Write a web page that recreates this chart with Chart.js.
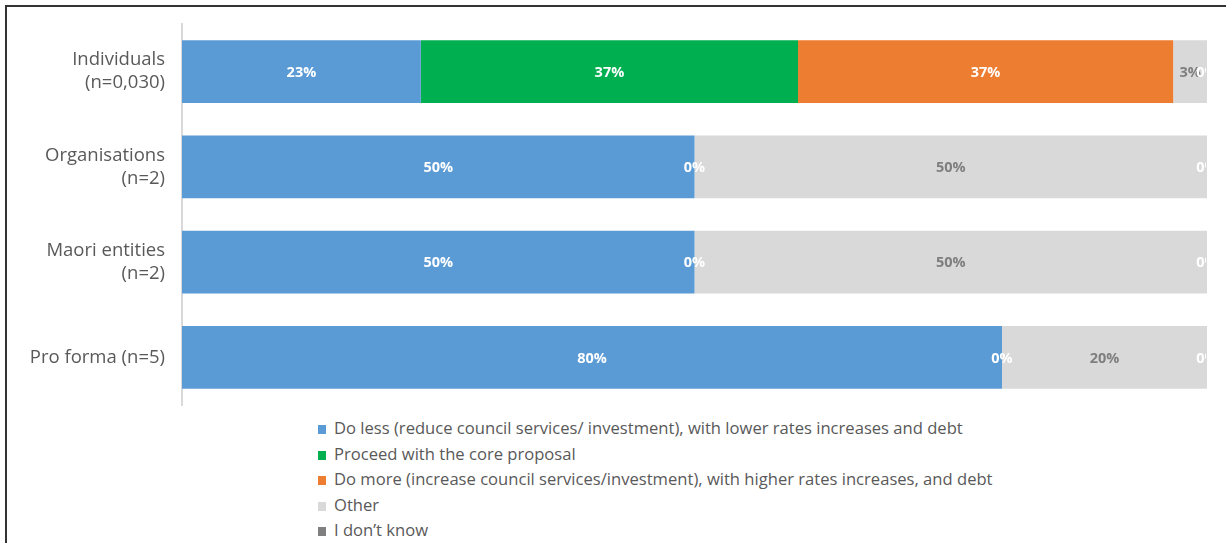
<!DOCTYPE html>
<html>
<head>
<meta charset="utf-8">
<script src="https://cdn.jsdelivr.net/npm/chart.js@4.4.0/dist/chart.umd.min.js"></script>
<style>
  html, body { margin:0; padding:0; background:#fff; }
  body { width:1226px; height:543px; position:relative; overflow:hidden; font-family: "Open Sans", Roboto, sans-serif; }
  .frame { position:absolute; left:5px; top:5px; right:-10px; bottom:-10px; border-top:2px solid #333; border-left:2px solid #333; }
  #c { position:absolute; left:0; top:0; }
  #legend { position:absolute; left:318px; top:417px; }
  .lg { height:25.6px; line-height:22px; font-size:16.6px; color:#595959; white-space:nowrap; }
  .lg i { display:inline-block; width:8px; height:9px; margin-right:8px; vertical-align:0px; }
</style>
</head>
<body>
<div class="frame"></div>
<canvas id="c" width="1226" height="412"></canvas>
<div id="legend"></div>
<script>
// categories and series (percent of respondents)
const groups = [['Individuals','(n=0,030)'], ['Organisations','(n=2)'], ['Maori entities','(n=2)'], 'Pro forma (n=5)'];
const doLess  = [23.3, 50, 50, 80];
const core    = [36.8, 0, 0, 0];
const doMore  = [36.6, 0, 0, 0];
const other   = [3.3, 50, 50, 20];
const dontKnow = [0, 0, 0, 0];

const seriesNames = [
  'Do less (reduce council services/ investment), with lower rates increases and debt',
  'Proceed with the core proposal',
  'Do more (increase council services/investment), with higher rates increases, and debt',
  'Other',
  'I don\u2019t know'
];
const colours = ['#5b9bd5', '#00b050', '#ed7d31', '#d9d9d9', '#7f7f7f'];
const labelColours = ['#fff', '#fff', '#fff', '#7f7f7f', '#fff'];
const seriesData = [doLess, core, doMore, other, dontKnow];

// which segments print a label (zero labels only once per row, like the source)
const showLabel = [
  [true, true, true, true],
  [true, true, true, true],
  [true, false, false, false],
  [true, true, true, true],
  [true, true, true, true]
];

const segLabels = {
  id: 'segLabels',
  afterDatasetsDraw(chart) {
    const ctx = chart.ctx, area = chart.chartArea;
    ctx.save();
    ctx.beginPath();
    ctx.rect(area.left, area.top - 5, area.right - area.left - 1, area.bottom - area.top + 10);
    ctx.clip();
    ctx.font = 'bold 14.5px "Open Sans", sans-serif';
    ctx.textAlign = 'center';
    ctx.textBaseline = 'middle';
    chart.data.datasets.forEach((ds, di) => {
      chart.getDatasetMeta(di).data.forEach((bar, i) => {
        if (!showLabel[di][i]) return;
        const v = ds.data[i];
        const x = (bar.x + bar.base) / 2;
        ctx.fillStyle = labelColours[di];
        ctx.fillText(Math.round(v) + '%', x, bar.y + 1);
      });
    });
    ctx.restore();
  }
};

new Chart(document.getElementById('c'), {
  type: 'bar',
  data: {
    labels: groups,
    datasets: seriesData.map((d, i) => ({
      label: seriesNames[i], data: d, backgroundColor: colours[i],
      borderWidth: 0, barPercentage: 0.66, categoryPercentage: 1
    }))
  },
  options: {
    indexAxis: 'y',
    responsive: false,
    animation: false,
    layout: { padding: { top: 24, right: 19, bottom: 7, left: 0 } },
    plugins: { legend: { display: false }, tooltip: { enabled: false } },
    scales: {
      x: { stacked: true, min: 0, max: 100, display: false },
      y: {
        stacked: true,
        grid: { display: false, drawTicks: false },
        border: { display: true, color: '#d9d9d9', width: 2 },
        ticks: { color: '#595959', padding: 17, font: { family: '"Open Sans"', size: 18.5, lineHeight: 1.25 } },
        afterFit(s) { s.width = 182; s.paddingTop = 0; s.paddingBottom = 0; }
      }
    }
  },
  plugins: [segLabels]
});

document.getElementById('legend').innerHTML = seriesNames.map((n, i) =>
  `<div class="lg"><i style="background:${colours[i]}"></i>${n}</div>`).join('');
</script>
</body>
</html>
